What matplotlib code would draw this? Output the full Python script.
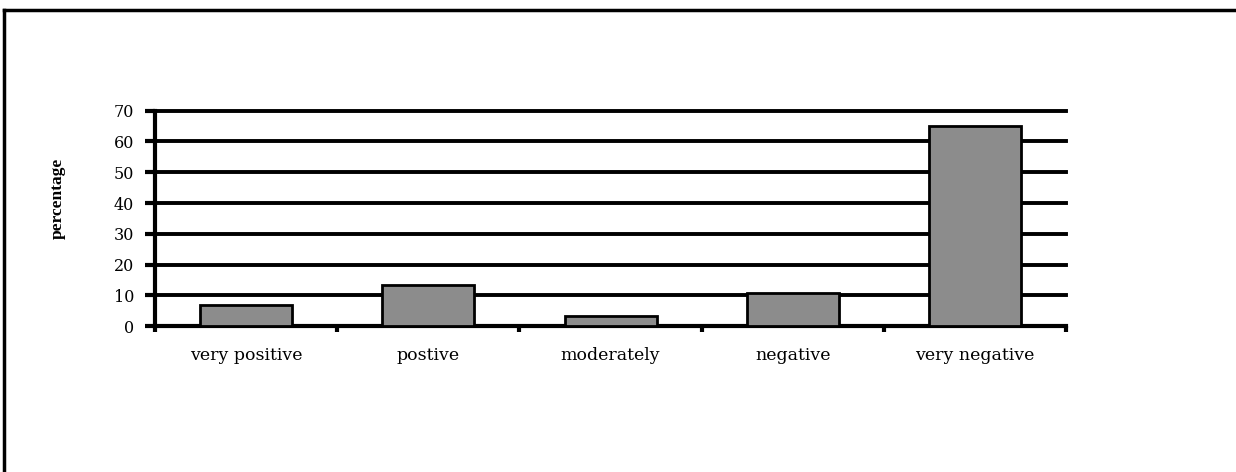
import matplotlib
matplotlib.use('Agg')
import matplotlib.pyplot as plt
import numpy as np

categories = ['very positive', 'postive', 'moderately', 'negative', 'very negative']
values = [6.8, 13.3, 3.2, 10.9, 65.1]
yticks = [0, 10, 20, 30, 40, 50, 60, 70]

plt.rcParams['font.family'] = ['DejaVu Serif', 'Liberation Serif']

fig = plt.figure(figsize=(12.36, 4.72), dpi=100)
ax = fig.add_axes([0.1254, 0.309, 0.7371, 0.4565])

x = np.arange(len(categories))
ax.bar(x, values, width=0.505, color='#8c8c8c', edgecolor='black', linewidth=2, zorder=3)

ax.set_xlim(-0.5, len(categories) - 0.5)
ax.set_ylim(0, 70)
ax.set_yticks(yticks)
ax.set_yticklabels([str(v) for v in yticks], fontsize=11.5)
ax.yaxis.grid(True, color='black', linewidth=2.8, zorder=1)
ax.set_axisbelow(True)
for gl in ax.get_ygridlines():
    gl.set_clip_on(False)

# category labels between boundary ticks
ax.set_xticks(np.arange(-0.5, len(categories), 1.0))
ax.set_xticklabels([])
ax.set_xticks(x, minor=True)
ax.set_xticklabels(categories, minor=True, fontsize=12.5)
ax.tick_params(axis='x', which='major', length=4, width=3, direction='out')
ax.tick_params(axis='x', which='minor', length=0, pad=15)
ax.tick_params(axis='y', length=7, width=3, direction='out', pad=8)

for s in ['top', 'right']:
    ax.spines[s].set_visible(False)
ax.spines['left'].set_linewidth(3)
ax.spines['bottom'].set_linewidth(3)

ax.set_ylabel('percentage', fontsize=12.5, fontweight='bold', family='Liberation Serif')
ax.yaxis.set_label_coords(-0.098, 0.595)

# outer frame, top and left edges only
fig.add_artist(plt.Line2D([0.0035, 1.0], [0.979, 0.979], color='black', linewidth=2.5))
fig.add_artist(plt.Line2D([0.0035, 0.0035], [0.0, 0.979], color='black', linewidth=2.5))

fig.savefig('out.png', dpi=100)
